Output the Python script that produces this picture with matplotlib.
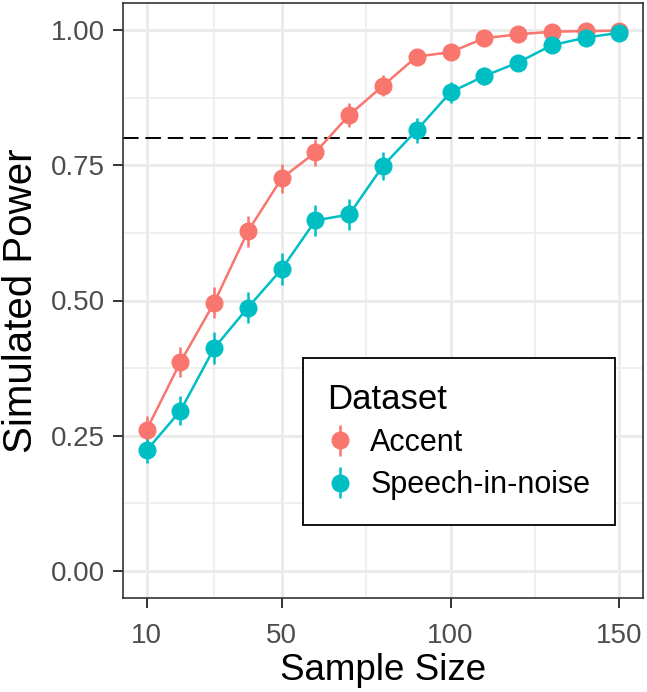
import matplotlib
matplotlib.use("Agg")
import matplotlib.pyplot as plt
from matplotlib.ticker import FixedLocator

plt.rcParams['font.family'] = ['Liberation Sans', 'DejaVu Sans']

# data
sample_size = [10, 20, 30, 40, 50, 60, 70, 80, 90, 100, 110, 120, 130, 140, 150]
accent = [0.261, 0.386, 0.496, 0.628, 0.726, 0.774, 0.843, 0.897, 0.951, 0.959,
          0.985, 0.992, 0.997, 0.998, 0.999]
accent_err = [0.025, 0.028, 0.029, 0.029, 0.027, 0.025, 0.022, 0.019, 0.013, 0.012,
              0.007, 0.005, 0.003, 0.003, 0.002]
speech = [0.223, 0.296, 0.412, 0.487, 0.558, 0.648, 0.659, 0.749, 0.815, 0.885,
          0.915, 0.940, 0.972, 0.986, 0.995]
speech_err = [0.024, 0.027, 0.029, 0.029, 0.029, 0.028, 0.028, 0.026, 0.023, 0.019,
              0.017, 0.014, 0.010, 0.007, 0.004]
series = [("Accent", accent, accent_err, "#F8766D"),
          ("Speech-in-noise", speech, speech_err, "#00BFC4")]
threshold = 0.8

x_major = [10, 50, 100, 150]
x_minor = [30, 75, 125]
y_major = [0.0, 0.25, 0.5, 0.75, 1.0]
y_minor = [0.125, 0.375, 0.625, 0.875]

fig = plt.figure(figsize=(6.47, 6.92), dpi=100)
ax = fig.add_axes([123 / 647, 94 / 692, 520 / 647, 595 / 692])

# grid like theme_bw
for v in x_minor:
    ax.axvline(v, color="#EBEBEB", lw=1.1, zorder=0)
for v in y_minor:
    ax.axhline(v, color="#EBEBEB", lw=1.1, zorder=0)
for v in x_major:
    ax.axvline(v, color="#EBEBEB", lw=2.1, zorder=0)
for v in y_major:
    ax.axhline(v, color="#EBEBEB", lw=2.1, zorder=0)

ax.axhline(threshold, color="black", lw=1.4, dashes=(8, 3.5), zorder=1)

for name, vals, err, col in series:
    ax.plot(sample_size, vals, color=col, lw=1.8, zorder=2)
    ax.errorbar(sample_size, vals, yerr=err, fmt="o", color=col, ms=12,
                elinewidth=1.8, capsize=0, label=name, zorder=3)

ax.set_xlim(3, 157)
ax.set_ylim(-0.05, 1.05)
ax.xaxis.set_major_locator(FixedLocator(x_major))
ax.yaxis.set_major_locator(FixedLocator(y_major))
ax.set_yticklabels(["0.00", "0.25", "0.50", "0.75", "1.00"])
ax.tick_params(axis="both", length=7, width=1.4, color="#333333",
               labelsize=20, labelcolor="#4D4D4D")
ax.tick_params(axis="y", pad=6)
ax.tick_params(axis="x", pad=11)
for s in ax.spines.values():
    s.set_color("#333333")
    s.set_linewidth(1.2)

ax.set_xlabel("Sample Size", fontsize=26.5, labelpad=3)
ax.set_ylabel("Simulated Power", fontsize=29, labelpad=8)

leg = ax.legend(title="Dataset", loc="lower left", bbox_to_anchor=(0.346, 0.123),
                fontsize=22, title_fontsize=25, frameon=True, fancybox=False,
                edgecolor="black", framealpha=1, alignment="left",
                handlelength=0.8, handletextpad=0.6, borderpad=0.8,
                labelspacing=0.4, borderaxespad=0)
leg.get_frame().set_linewidth(1.3)

fig.savefig("out.png", dpi=100)
